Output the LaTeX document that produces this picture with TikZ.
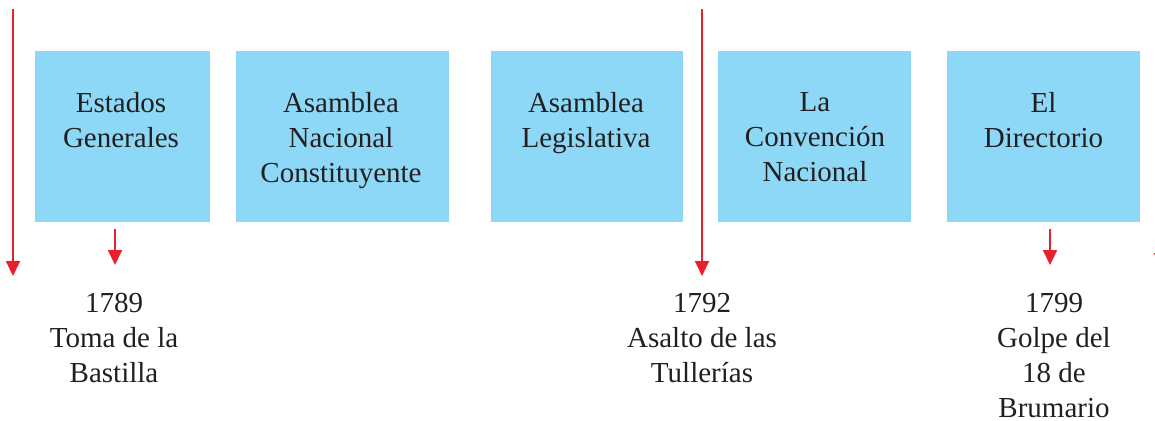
\documentclass[tikz,border=0pt]{standalone}
\usepackage{fontspec}
\setmainfont{Liberation Serif}
\usetikzlibrary{arrows.meta}
\definecolor{boxblue}{HTML}{8DD8F6}
\definecolor{arrred}{HTML}{E8202A}
\definecolor{txt}{HTML}{231F20}
\begin{document}
\begin{tikzpicture}[x=1pt,y=-1pt,
  period/.style={fill=boxblue,draw=none},
  lbl/.style={anchor=north,align=center,text=txt,inner sep=0pt,font=\fontsize{29}{35}\selectfont},
  redarrow/.style={draw=arrred,line width=2pt,-{Triangle[length=15pt,width=14pt]}}]
\useasboundingbox (0,0) rectangle (1155,420);
\clip (0,0) rectangle (1155,420);
% boxes
\path[period] (35,51) rectangle (210,222);
\path[period] (236,51) rectangle (449,222);
\path[period] (491,51) rectangle (683,222);
\path[period] (718,51) rectangle (911,222);
\path[period] (947,51) rectangle (1140,222);
% box texts
\node[lbl] (t1) at (121,92.5) {Estados\\Generales};
\node[lbl] (t2) at (341,92.5) {Asamblea\\Nacional\\Constituyente};
\node[lbl] (t3) at (586,92.5) {Asamblea\\Legislativa};
\node[lbl] (t4) at (815,92.5) {La\\Convención\\Nacional};
\node[lbl] (t5) at (1043.5,92.5) {El\\Directorio};
% arrow coordinates
\coordinate (a1s) at (13,9);   \coordinate (a1e) at (13,276);
\coordinate (a2s) at (702,9);  \coordinate (a2e) at (702,276);
\coordinate (b1s) at (115,229); \coordinate (b1e) at (115,265);
\coordinate (b2s) at (1050,229); \coordinate (b2e) at (1050,265);
\coordinate (b3s) at (1161,229); \coordinate (b3e) at (1161,268);
\draw[redarrow] (a1s) -- (a1e);
\draw[redarrow] (a2s) -- (a2e);
\draw[redarrow] (b1s) -- (b1e);
\draw[redarrow] (b2s) -- (b2e);
\draw[redarrow] (b3s) -- (b3e);
% event labels
\node[lbl] (e1) at (114,293.5) {1789\\Toma de la\\Bastilla};
\node[lbl] (e2) at (702,293.5) {1792\\Asalto de las\\Tullerías};
\node[lbl] (e3) at (1054,293.5) {1799\\Golpe del\\18 de\\Brumario};
\end{tikzpicture}
\end{document}
